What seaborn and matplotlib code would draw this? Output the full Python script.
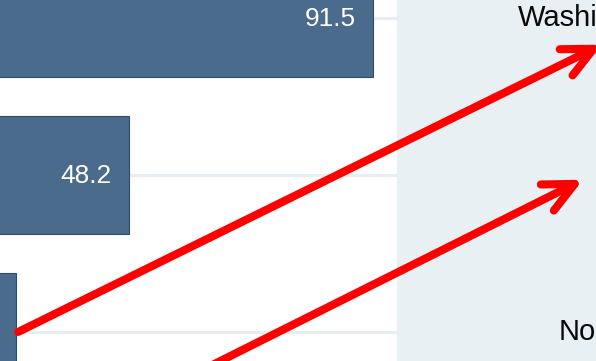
import matplotlib
matplotlib.use("Agg")
import matplotlib.pyplot as plt
import seaborn as sns
import pandas as pd

sns.set_theme(style="white")
plt.rcParams["font.family"] = ["Liberation Sans", "DejaVu Sans"]

# Bar data
categories = ["Oregon", "California", "Nevada"]
values = [91.5, 48.2, 28.2]
value_labels = ["91.5", "48.2", "28.2"]

# Labels shown in the side panel, keyed by row
side_labels = ["Washington", "North"]
side_rows = [0, 2]

BAR_COLOR = "#4a6b8c"
BAR_EDGE = "#2b4c6e"
PANEL_COLOR = "#e8f0f3"
GRID_COLOR = "#e6eef1"

W, H, DPI = 596, 361, 100
fig = plt.figure(figsize=(W / DPI, H / DPI), dpi=DPI)

split = 396.7 / W
ax = fig.add_axes([0, 0, split, 1])
ax2 = fig.add_axes([split, 0, 1 - split, 1])

df = pd.DataFrame({"state": categories, "value": values})
sns.barplot(data=df, x="value", y="state", orient="h", color=BAR_COLOR,
            width=0.75, saturation=1, edgecolor=BAR_EDGE, linewidth=0.8,
            ax=ax, zorder=2)

ylim = (2.185, -0.1146)
ax.set_xlim(25.28, 95.77)
ax.set_ylim(*ylim)
ax.set_yticks(range(len(categories)))
ax.grid(axis="y", color=GRID_COLOR, linewidth=2.3, zorder=0)
ax.grid(axis="x", visible=False)
ax.set_axisbelow(True)
ax.tick_params(left=False, bottom=False, labelleft=False, labelbottom=False)
ax.set_xlabel("")
ax.set_ylabel("")
for s in ax.spines.values():
    s.set_visible(False)

for i, (v, lab) in enumerate(zip(values, value_labels)):
    ax.annotate(lab, xy=(v, i), xytext=(-17, -1), textcoords="offset pixels",
                ha="right", va="center", color="white", fontsize=18.9,
                zorder=3)

# Side panel
ax2.set_facecolor(PANEL_COLOR)
ax2.set_xlim(0, 1)
ax2.set_ylim(*ylim)
ax2.set_xticks([])
ax2.set_yticks([])
for s in ax2.spines.values():
    s.set_visible(False)

for lab, r in zip(side_labels, side_rows):
    ax2.text(0.9925, r, lab, ha="center", va="center", fontsize=21,
             color="#0a0a0a", clip_on=False)

# Arrows crossing from the bars into the side panel
arrow_kw = dict(arrowstyle="->,head_length=2.2,head_width=1.05",
                mutation_scale=10, color="#ff0000", lw=5.8,
                shrinkA=0, shrinkB=0, capstyle="round", joinstyle="round")
ax2.annotate("", xy=(1.03, 0.17), xycoords="data",
             xytext=(values[2] + 0.3, 2.0), textcoords=ax.transData,
             arrowprops=arrow_kw, annotation_clip=False, zorder=5)
ax2.annotate("", xy=(0.935, 1.03), xycoords="data",
             xytext=(25.1, 2.89), textcoords=ax.transData,
             arrowprops=arrow_kw, annotation_clip=False, zorder=5)

fig.savefig("out.png", dpi=DPI)
